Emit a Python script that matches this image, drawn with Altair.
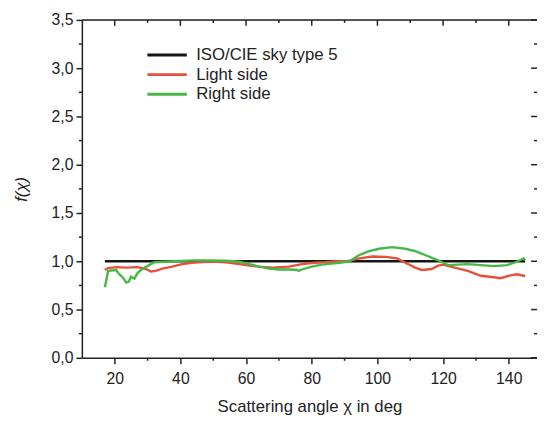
import altair as alt
import pandas as pd

# ---- data ----
series = ["ISO/CIE sky type 5", "Light side", "Right side"]
colors = ["#151515", "#e6503c", "#46b846"]

iso_x = [17, 145]
iso_y = [1.0, 1.0]

light_x = [17, 18, 20.5, 23.5, 27, 29.5, 31, 32.5, 34.5, 37.5, 40.5, 43.5, 47.5, 51, 54, 58,
           61, 64, 68, 73, 77, 81, 84, 88, 90.5, 94.5, 98.5, 102.5, 106, 108.5, 111.5, 113.5,
           116.5, 118.5, 120, 123.5, 127.5, 131.5, 135.5, 137.5, 140.5, 142.5, 144.5, 145]
light_y = [0.91, 0.93, 0.94, 0.935, 0.94, 0.92, 0.895, 0.90, 0.925, 0.945, 0.97, 0.985, 0.995,
           0.995, 0.99, 0.97, 0.955, 0.945, 0.935, 0.945, 0.97, 0.985, 0.99, 1.0, 1.0, 1.03,
           1.05, 1.045, 1.03, 0.985, 0.935, 0.91, 0.92, 0.955, 0.965, 0.935, 0.90, 0.85, 0.835,
           0.825, 0.855, 0.865, 0.85, 0.85]

right_x = [17, 18, 20.5, 21, 22.5, 23.5, 24.3, 25, 26, 27, 28.5, 30, 32, 35, 38.5, 44, 48, 54,
           58, 61, 64, 67, 70, 73, 75.5, 76, 77, 80, 83, 86, 88.5, 91.5, 94.5, 97.5, 100.5,
           104.5, 108.5, 111.5, 114.5, 117, 118.5, 120, 121.5, 127.5, 135.5, 139.5, 142.5,
           144.5, 145]
right_y = [0.73, 0.90, 0.91, 0.88, 0.83, 0.78, 0.79, 0.84, 0.82, 0.88, 0.925, 0.95, 0.99, 0.995,
           1.0, 1.01, 1.01, 1.005, 0.995, 0.97, 0.945, 0.925, 0.915, 0.915, 0.91, 0.90, 0.915,
           0.945, 0.965, 0.975, 0.985, 1.0, 1.065, 1.105, 1.13, 1.146, 1.13, 1.105, 1.065,
           1.03, 1.01, 0.985, 0.96, 0.97, 0.95, 0.96, 0.995, 1.03, 1.01]

x_major = [20, 40, 60, 80, 100, 120, 140]
x_minor = [30, 50, 70, 90, 110, 130]
y_major = [0, 0.5, 1.0, 1.5, 2.0, 2.5, 3.0, 3.5]
y_minor = [0.25, 0.75, 1.25, 1.75, 2.25, 2.75, 3.25]
y_top = [3.5]

rows = []
for name, xs_, ys_ in zip(series, [iso_x, light_x, right_x], [iso_y, light_y, right_y]):
    for i, (a, b) in enumerate(zip(xs_, ys_)):
        rows.append({"series": name, "x": a, "y": b, "i": i})
df = pd.DataFrame(rows)

W, H = 462, 343
FONT = "Liberation Sans"
AX = "#222222"
xscale = alt.Scale(domain=[10, 148.6], nice=False, zero=False)
yscale = alt.Scale(domain=[0, 3.5], nice=False, zero=True)
ylabel = "replace(format(datum.value, '.1f'), '.', ',')"

common = dict(grid=False, domainColor=AX, tickColor=AX, domainWidth=1.5, tickWidth=1.5,
              labelColor=AX, titleColor=AX, labelFont=FONT, titleFont=FONT)

main = alt.Chart(df).mark_line(strokeWidth=2.4).encode(
    x=alt.X("x:Q", scale=xscale, title="Scattering angle χ in deg",
            axis=alt.Axis(orient="bottom", values=x_major, tickSize=6, labelFontSize=16,
                          labelPadding=7, titleFontSize=17, titleFontWeight="normal",
                          titlePadding=12, format="d", **common)),
    y=alt.Y("y:Q", scale=yscale, title="f(χ)",
            axis=alt.Axis(orient="left", values=y_major, tickSize=6, labelFontSize=16,
                          labelPadding=3, labelExpr=ylabel, titleFontSize=17,
                          titleFontWeight="normal", titleFontStyle="italic",
                          titlePadding=21, **common)),
    color=alt.Color("series:N", scale=alt.Scale(domain=series, range=colors),
                    legend=alt.Legend(title=None, orient="none", legendX=75, legendY=24,
                                      symbolType="M-2,0H2", symbolSize=400,
                                      symbolStrokeWidth=3, labelFontSize=17, labelFont=FONT,
                                      labelColor=AX, rowPadding=0, labelOffset=18)),
    order="i:Q",
)

dxmaj = pd.DataFrame({"v": x_major})
dxmin = pd.DataFrame({"v": x_minor})
dymaj = pd.DataFrame({"v": y_major})
dymin = pd.DataFrame({"v": y_minor})
dtop = pd.DataFrame({"v": y_top})


def xticks(d, y0, y1):
    return alt.Chart(d).mark_rule(color=AX, strokeWidth=1.5).encode(
        x=alt.X("v:Q", scale=xscale, axis=None), y=alt.value(y0), y2=alt.value(y1))


def yticks(d, x0, x1, width=1.5):
    return alt.Chart(d).mark_rule(color=AX, strokeWidth=width).encode(
        y=alt.Y("v:Q", scale=yscale, axis=None), x=alt.value(x0), x2=alt.value(x1))


chart = alt.layer(
    main,
    yticks(dtop, 0, W, 1.6),
    xticks(dxmin, H, H + 3),
    xticks(dxmaj, 0, 6),
    xticks(dxmin, 0, 3),
    yticks(dymin, -3, 0),
    yticks(dymaj, W - 6, W),
    yticks(dymin, W - 3, W),
).resolve_axis(x="independent", y="independent").properties(
    width=W, height=H,
    autosize=alt.AutoSizeParams(type="none"),
    padding={"left": 75, "top": 9, "right": 0, "bottom": 60},
).configure_view(stroke=None).configure(font=FONT, background="white")

chart.save("out.html", embed_options={"renderer": "svg", "actions": False})
